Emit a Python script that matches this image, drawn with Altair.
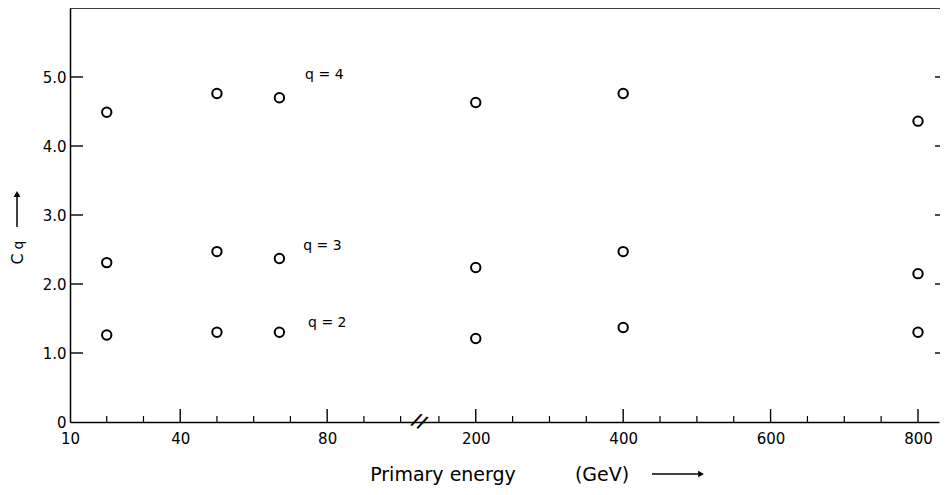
import altair as alt
import pandas as pd

# ---- data ----
energy = [20, 50, 67, 200, 400, 800]          # GeV
cq2 = [1.26, 1.30, 1.30, 1.21, 1.37, 1.30]
cq3 = [2.31, 2.47, 2.37, 2.24, 2.47, 2.15]
cq4 = [4.49, 4.76, 4.70, 4.63, 4.76, 4.36]

x_labels = [10, 40, 80, 200, 400, 600, 800]
x_major_ticks = [40, 80, 200, 400, 600, 800]
x_minor_ticks = [20, 30, 50, 60, 70, 90, 100, 150, 250, 300, 350,
                 450, 500, 550, 650, 700, 750]
y_labels = [0, 1, 2, 3, 4, 5]
y_ticks = [1, 2, 3, 4, 5]

q_text = ["q = 4", "q = 3", "q = 2"]
q_x = [74, 73.5, 74.8]
q_y = [5.03, 2.55, 1.43]

break_x = [114]

FONT = "DejaVu Sans"
W, H = 870, 414

df = pd.DataFrame({
    "energy": energy * 3,
    "C": cq2 + cq3 + cq4,
    "q": ["2"] * 6 + ["3"] * 6 + ["4"] * 6,
})

# broken (piecewise linear) energy axis
xs = alt.Scale(domain=[10, 105, 123, 828.5], range=[0, 349, 349, 869],
               nice=False, zero=False)
ys = alt.Scale(domain=[0, 6], nice=False, zero=True)

xaxis = alt.Axis(values=x_labels, title=None, format="d", labelPadding=9,
                 labelFontSize=15)
yaxis = alt.Axis(values=y_labels, title=None, labelPadding=4, labelFontSize=15,
                 labelExpr="datum.value == 0 ? '0' : format(datum.value, '.1f')")


def X():
    return alt.X("energy:Q", scale=xs, axis=xaxis)


def Y():
    return alt.Y("C:Q", scale=ys, axis=yaxis)


points = alt.Chart(df).mark_point(
    filled=False, color="black", size=88, strokeWidth=2, opacity=1
).encode(x=X(), y=Y())

xt_major = alt.Chart(pd.DataFrame({"energy": x_major_ticks})).mark_rule(
    color="black", strokeWidth=1.4
).encode(x=X(), y=alt.value(H), y2=alt.value(H - 13))
xt_minor = alt.Chart(pd.DataFrame({"energy": x_minor_ticks})).mark_rule(
    color="black", strokeWidth=1.2
).encode(x=X(), y=alt.value(H), y2=alt.value(H - 6))
yt_left = alt.Chart(pd.DataFrame({"C": y_ticks})).mark_rule(
    color="black", strokeWidth=1.4
).encode(y=Y(), x=alt.value(0), x2=alt.value(13))
yt_right = alt.Chart(pd.DataFrame({"C": y_ticks})).mark_rule(
    color="black", strokeWidth=1.4
).encode(y=Y(), x=alt.value(W - 5), x2=alt.value(W))
top_line = alt.Chart(pd.DataFrame({"a": [0]})).mark_rule(
    color="black", strokeWidth=1.5
).encode(x=alt.value(0), x2=alt.value(W), y=alt.value(0))

brk = alt.Chart(pd.DataFrame({"energy": break_x, "C": [0], "t": ["//"]})).mark_text(
    font=FONT, fontSize=18, color="black", angle=25, baseline="middle", align="center",
    fontWeight="bold"
).encode(x=X(), y=Y(), text="t:N")

qlab = alt.Chart(pd.DataFrame({"energy": q_x, "C": q_y, "t": q_text})).mark_text(
    font=FONT, fontSize=14, color="black", align="left", baseline="middle"
).encode(x=X(), y=Y(), text="t:N")

one = pd.DataFrame({"a": [0]})

# y title: C with subscript q, and upward arrow
ytitle_c = alt.Chart(pd.DataFrame({"t": ["C"]})).mark_text(
    font=FONT, fontSize=16, color="black", angle=270, baseline="middle", align="center"
).encode(text="t:N", x=alt.value(-52), y=alt.value(251))
ytitle_q = alt.Chart(pd.DataFrame({"t": ["q"]})).mark_text(
    font=FONT, fontSize=14, color="black", angle=270, baseline="middle", align="center"
).encode(text="t:N", x=alt.value(-51), y=alt.value(237))
yarrow = alt.Chart(one).mark_rule(color="black", strokeWidth=1.5).encode(
    x=alt.value(-53), y=alt.value(219), y2=alt.value(188))
yarrow_head = alt.Chart(one).mark_point(
    shape="triangle-up", filled=True, color="black", size=45, opacity=1
).encode(x=alt.value(-53), y=alt.value(186))

# x title and arrow
xtitle_a = alt.Chart(pd.DataFrame({"t": ["Primary energy"]})).mark_text(
    font=FONT, fontSize=19, color="black", align="center", baseline="alphabetic"
).encode(text="t:N", x=alt.value(373), y=alt.value(473))
xtitle_b = alt.Chart(pd.DataFrame({"t": ["(GeV)"]})).mark_text(
    font=FONT, fontSize=19, color="black", align="center", baseline="alphabetic"
).encode(text="t:N", x=alt.value(532), y=alt.value(473))
xarrow = alt.Chart(one).mark_rule(color="black", strokeWidth=1.5).encode(
    y=alt.value(466), x=alt.value(582), x2=alt.value(628))
xarrow_head = alt.Chart(one).mark_point(
    shape="triangle-right", filled=True, color="black", size=45, opacity=1
).encode(x=alt.value(631), y=alt.value(466))

chart = alt.layer(
    points, top_line, xt_major, xt_minor, yt_left, yt_right, brk, qlab,
    ytitle_c, ytitle_q, yarrow, yarrow_head,
    xtitle_a, xtitle_b, xarrow, xarrow_head,
).properties(
    width=W, height=H,
    background="white",
    autosize=alt.AutoSizeParams(type="none"),
    padding={"left": 62, "top": 0, "right": 0, "bottom": 65},
).configure_view(
    stroke=None
).configure_axis(
    ticks=False, grid=False, domain=True, domainColor="black", domainWidth=1.5,
    labelFont=FONT, labelColor="black", labelFlush=False, labelOverlap=False,
)

chart.save("out.html", embed_options={"renderer": "svg", "actions": False})
